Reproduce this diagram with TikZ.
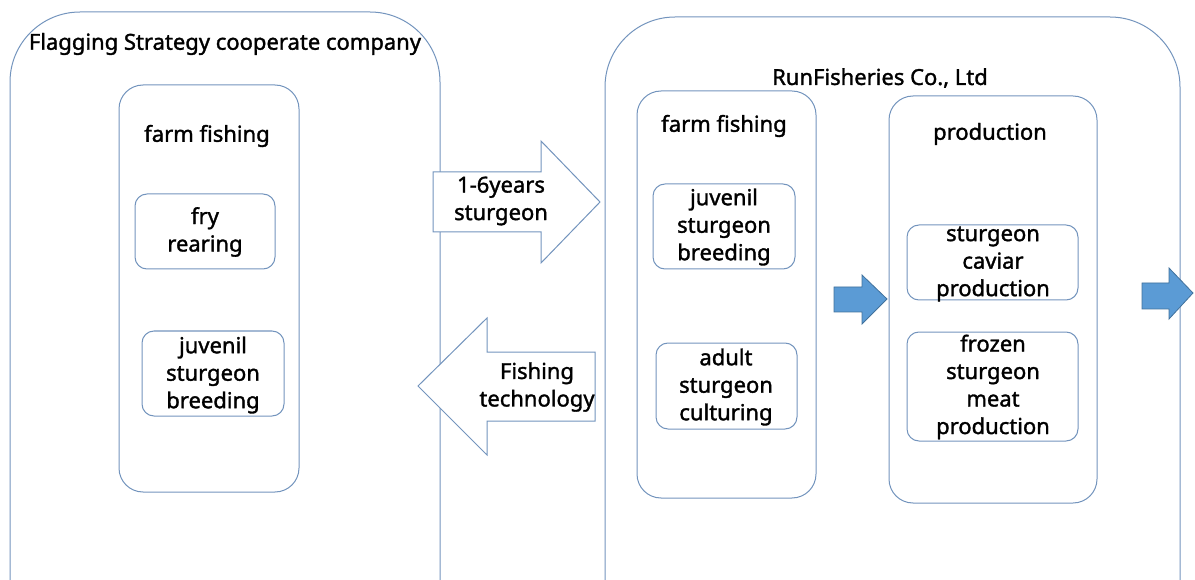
\documentclass[tikz,border=0pt]{standalone}
\usepackage{fontspec}
\setmainfont{Noto Sans}
\newfontfamily\lblfont{Noto Sans}[FakeBold=1.5]
\begin{document}
\begin{tikzpicture}[x=1pt,y=-1pt,
  outline/.style={draw=boxblue,line width=1pt},
  bigbox/.style={outline,rounded corners=70pt},
  midbox/.style={outline,rounded corners=24pt},
  smallbox/.style={outline,rounded corners=12pt},
  lbl/.style={font=\lblfont\fontsize{22}{27.5}\selectfont,align=center,inner sep=0pt},
  blockarrow/.style={draw=boxblue,line width=1pt,fill=white,line join=miter},
  bluearrow/.style={draw=arrowedge,fill=arrowfill,line width=0.8pt,line join=miter}]
\definecolor{boxblue}{HTML}{7394BD}
\definecolor{arrowfill}{HTML}{5B9BD5}
\definecolor{arrowedge}{HTML}{41719C}
\useasboundingbox (0,0) rectangle (1195,580);
\clip (0,0) rectangle (1195,580);
% outer boxes
\draw[bigbox] (10,12) rectangle (440,680);
\draw[bigbox] (605,17) rectangle (1180,680);
\node[lbl] (lefttitle) at (225,44) {Flagging Strategy cooperate company};
\node[lbl] (righttitle) at (880,78) {RunFisheries Co., Ltd};
% left inner
\draw[midbox] (119,85) rectangle (299,492);
\node[lbl] (lfarm) at (207,136) {farm fishing};
\draw[smallbox] (135,194) rectangle (275,269);
\node[lbl] (fry) at (205,232) {fry\\rearing};
\draw[smallbox] (142,331) rectangle (284,416);
\node[lbl] (ljuv) at (213,375) {juvenil\\sturgeon\\breeding};
% right inner farm
\draw[midbox] (637,91) rectangle (816,498);
\node[lbl] (rfarm) at (724,126) {farm fishing};
\draw[smallbox] (653,184) rectangle (795,269);
\node[lbl] (rjuv) at (724,227) {juvenil\\sturgeon\\breeding};
\draw[smallbox] (656,343) rectangle (797,429);
\node[lbl] (adult) at (726,387) {adult\\sturgeon\\culturing};
% production
\draw[midbox] (889,96) rectangle (1097,503);
\node[lbl] (prod) at (990,134) {production};
\draw[smallbox] (907,225) rectangle (1078,300);
\node[lbl] (caviar) at (993,264) {sturgeon\\caviar\\production};
\draw[smallbox] (907,332) rectangle (1078,441);
\node[lbl] (frozen) at (993,387) {frozen\\sturgeon\\meat\\production};
% block arrows
\draw[blockarrow] (433,172) -- (541,172) -- (541,141) -- (600,202) -- (541,263) -- (541,232) -- (433,232) -- cycle;
\node[lbl] (years) at (501,201) {1-6years\\sturgeon};
\draw[blockarrow] (595,352) -- (487,352) -- (487,318) -- (418,386) -- (487,455) -- (487,421) -- (595,421) -- cycle;
\node[lbl] (tech) at (537,387) {Fishing\\technology};
% blue arrows
\draw[bluearrow] (834,287) -- (862,287) -- (862,275) -- (887,299) -- (862,324) -- (862,312) -- (834,312) -- cycle;
\draw[bluearrow] (1142,283) -- (1169,283) -- (1169,268) -- (1193,293) -- (1169,319) -- (1169,309) -- (1142,309) -- cycle;
\end{tikzpicture}
\end{document}
